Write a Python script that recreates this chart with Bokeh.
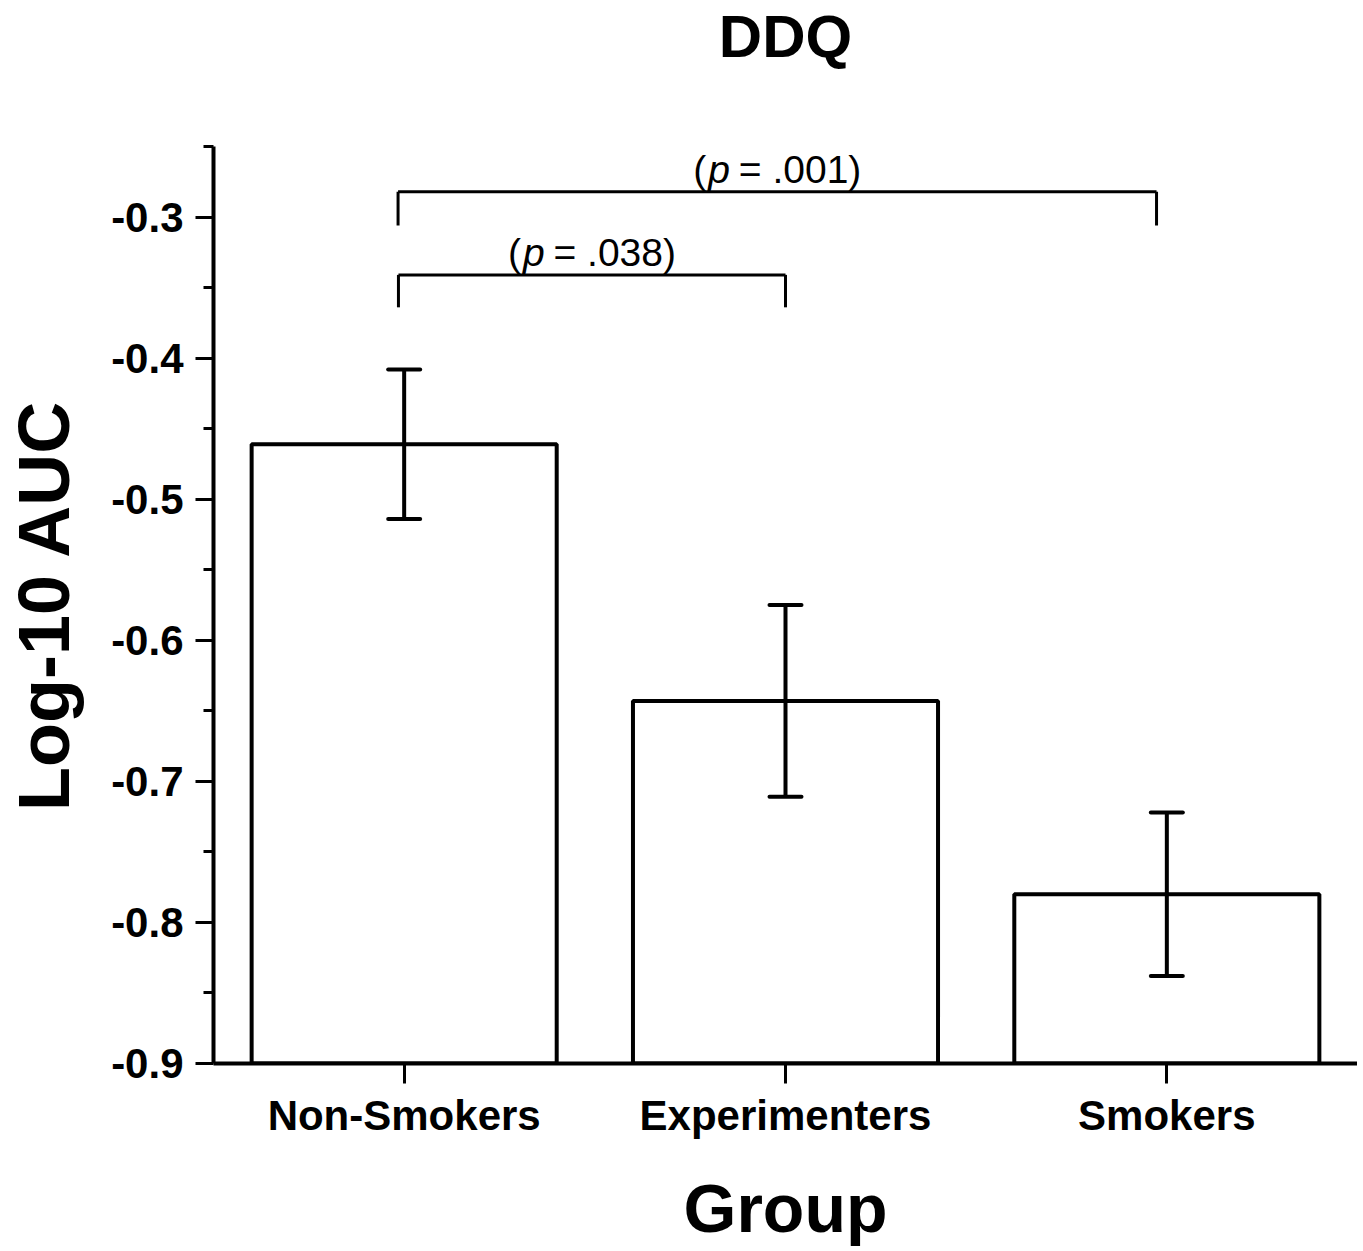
from bokeh.plotting import figure
from bokeh.models import FactorRange, Range1d, FixedTicker, Whisker, ColumnDataSource, TeeHead, Title
from bokeh.embed import file_html
from bokeh.resources import INLINE
from bokeh.core.properties import value

# ---- data ----
title_text = "DDQ"
categories = ["Non-Smokers", "Experimenters", "Smokers"]
means = [-0.461, -0.643, -0.780]
err_upper = [-0.408, -0.575, -0.722]
err_lower = [-0.514, -0.711, -0.838]

y_ticks = [-0.9, -0.8, -0.7, -0.6, -0.5, -0.4, -0.3]
y_tick_labels = ["-0.9", "-0.8", "-0.7", "-0.6", "-0.5", "-0.4", "-0.3"]
y_minor_ticks = [-0.85, -0.75, -0.65, -0.55, -0.45, -0.35, -0.25]

bracket_left = ["Non-Smokers", "Non-Smokers"]
bracket_right = ["Experimenters", "Smokers"]
bracket_top = [-0.341, -0.282]
bracket_bottom = [-0.364, -0.306]
p_values = [".038", ".001"]

# small horizontal style shifts of bracket ends (in category widths)
LEFT_SHIFT = [-0.015, -0.016]
RIGHT_SHIFT = [0.0, -0.027]

FONT = "Liberation Sans"

p = figure(x_range=FactorRange(*categories), y_range=Range1d(-0.9, -0.25),
           width=1357, height=1250, output_backend="svg", toolbar_location=None,
           min_border_left=213, min_border_right=0, min_border_top=146,
           min_border_bottom=187)
p.outline_line_color = None
p.xgrid.grid_line_color = None
p.ygrid.grid_line_color = None
p.background_fill_color = "white"

# spacer between frame and title (closest to frame), then the title on top
p.add_layout(Title(text=" ", text_font_size="1px", standoff=74), "above")
p.add_layout(Title(text=title_text, align="center", standoff=0,
                   text_font=FONT, text_font_size="60px", text_font_style="bold",
                   text_color="black"), "above")

# bars
p.vbar(x=categories, top=means, bottom=-0.9, width=0.8,
       fill_color="white", line_color="black", line_width=4)

# error bars
src = ColumnDataSource(dict(x=categories, upper=err_upper, lower=err_lower))
wh = Whisker(source=src, base="x", upper="upper", lower="lower",
             line_width=4, line_color="black", level="annotation",
             upper_head=TeeHead(size=32, line_width=4, line_color="black", line_cap="round"),
             lower_head=TeeHead(size=32, line_width=4, line_color="black", line_cap="round"))
p.add_layout(wh)

# brackets (numeric synthetic coordinates of the categorical axis)
xl = [categories.index(c) + 0.5 + s for c, s in zip(bracket_left, LEFT_SHIFT)]
xr = [categories.index(c) + 0.5 + s for c, s in zip(bracket_right, RIGHT_SHIFT)]
p.segment(x0=xl + xl + xr, x1=xr + xl + xr,
          y0=bracket_top * 3, y1=bracket_top + bracket_bottom + bracket_bottom,
          line_color="black", line_width=3)

mids = [(a + b) / 2 for a, b in zip(xl, xr)]
common = dict(text_font=value(FONT), text_font_size="39px", text_color="black",
              text_baseline="bottom", text_align="left", y_offset=-1)
p.text(x=mids, y=bracket_top, text=["(", "("], x_offset=-84, **common)
p.text(x=mids, y=bracket_top, text=["p", "p"], x_offset=-69, text_font_style="italic", **common)
p.text(x=mids, y=bracket_top, text=["= " + v + ")" for v in p_values], x_offset=-38.5, **common)

# y axis
ya = p.yaxis[0]
ya.ticker = FixedTicker(ticks=y_ticks, minor_ticks=y_minor_ticks)
ya.major_label_overrides = {t: l for t, l in zip(y_ticks, y_tick_labels)}
ya.axis_line_width = 4
ya.major_tick_line_width = 3
ya.minor_tick_line_width = 3
ya.major_tick_out = 18
ya.major_tick_in = 0
ya.minor_tick_out = 10
ya.minor_tick_in = 0
ya.major_label_text_font = FONT
ya.major_label_text_font_size = "42px"
ya.major_label_text_font_style = "bold"
ya.major_label_text_color = "black"
ya.major_label_standoff = 12
ya.axis_label = "Log-10 AUC"
ya.axis_label_text_font = FONT
ya.axis_label_text_font_size = "72px"
ya.axis_label_text_font_style = "bold"
ya.axis_label_text_color = "black"
ya.axis_label_standoff = 24

# x axis
xa = p.xaxis[0]
xa.axis_line_width = 4
xa.major_tick_line_width = 3
xa.major_tick_out = 20
xa.major_tick_in = 0
xa.minor_tick_line_color = None
xa.major_label_text_font = FONT
xa.major_label_text_font_size = "42px"
xa.major_label_text_font_style = "bold"
xa.major_label_text_color = "black"
xa.major_label_standoff = 8
xa.axis_label = "Group"
xa.axis_label_text_font = FONT
xa.axis_label_text_font_size = "68px"
xa.axis_label_text_font_style = "bold"
xa.axis_label_text_color = "black"
xa.axis_label_standoff = 28

open("out.html", "w").write(file_html(p, INLINE))
